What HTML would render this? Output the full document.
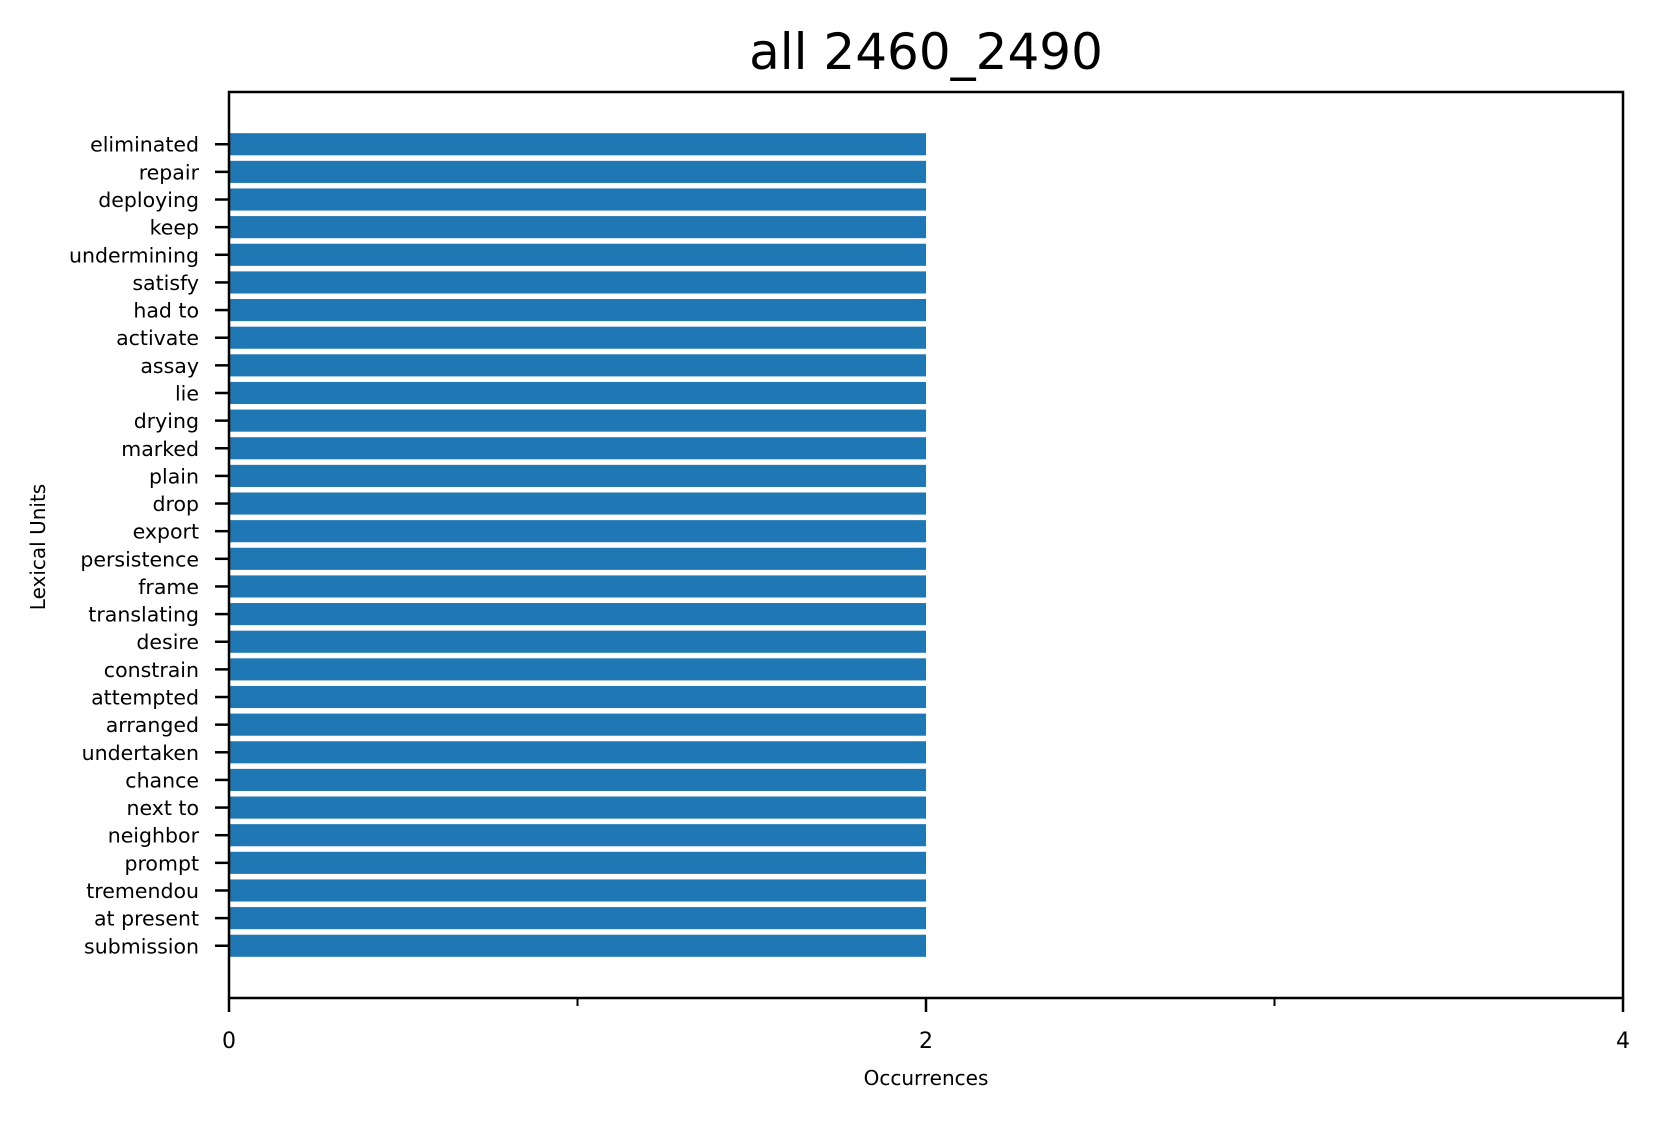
<!DOCTYPE html>
<html><head><meta charset="utf-8"><style>
body{margin:0;background:#fff;}
svg text{font-family:"DejaVu Sans","Liberation Sans",sans-serif;fill:#000;}
</style></head><body>
<svg id="chart" width="1660" height="1118" viewBox="0 0 1660 1118" xmlns="http://www.w3.org/2000/svg">
<rect width="1660" height="1118" fill="#fff"/>
<text x="926" y="69" font-size="50" text-anchor="middle">all 2460_2490</text>
<g id="bars"></g>
<g id="yticks"></g>
<g id="xticks"></g>
<rect x="229" y="92" width="1394" height="906" fill="none" stroke="#000" stroke-width="2.5"/>
<text x="926" y="1085" font-size="20" text-anchor="middle">Occurrences</text>
<text transform="translate(45,547) rotate(-90)" font-size="20" text-anchor="middle">Lexical Units</text>
</svg>
<script>
const categories = ["eliminated","repair","deploying","keep","undermining","satisfy","had to","activate","assay","lie","drying","marked","plain","drop","export","persistence","frame","translating","desire","constrain","attempted","arranged","undertaken","chance","next to","neighbor","prompt","tremendou","at present","submission"];
const values = [2,2,2,2,2,2,2,2,2,2,2,2,2,2,2,2,2,2,2,2,2,2,2,2,2,2,2,2,2,2];
const xMajorTicks = [0,2,4];
const xMinorTicks = [1,3];

const NS = "http://www.w3.org/2000/svg";
const L = 229, R = 1623, T = 92, B = 998;
const xMax = 4;
const n = categories.length;
const yMin = -0.4 - 0.05*(n - 0.2), yMax = (n - 1) + 0.4 + 0.05*(n - 0.2);
function xs(v){ return L + (v / xMax) * (R - L); }
function ys(i){ const d = (n - 1 - i); return B - (d - yMin) / (yMax - yMin) * (B - T); }
const unit = (B - T) / (yMax - yMin);
function mk(tag, attrs, parent){ const e = document.createElementNS(NS, tag); for (const k in attrs) e.setAttribute(k, attrs[k]); parent.appendChild(e); return e; }

const gb = document.getElementById('bars');
const gy = document.getElementById('yticks');
const gx = document.getElementById('xticks');
categories.forEach((c, i) => {
  const cy = ys(i), h = 0.8 * unit;
  const r = mk('rect', {x: xs(0), y: cy - h/2, width: xs(values[i]) - xs(0), height: h, fill: '#1f77b4'}, gb);
  
  
  const t = mk('line', {x1: L - 14, x2: L, y1: cy, y2: cy, stroke: '#000', 'stroke-width': 2.5}, gy);
  
  
  const tx = mk('text', {x: L - 30, y: cy + 7.5, 'font-size': 20.5, 'text-anchor': 'end'}, gy);
  tx.textContent = c;
  
  
});
xMajorTicks.forEach(v => {
  const t = mk('line', {x1: xs(v), x2: xs(v), y1: B, y2: B + 14, stroke: '#000', 'stroke-width': 2.5}, gx);
  
  
  const tx = mk('text', {x: xs(v), y: 1048, 'font-size': 22, 'text-anchor': 'middle'}, gx);
  tx.textContent = String(v);
  
  
});
xMinorTicks.forEach(v => {
  const t = mk('line', {x1: xs(v), x2: xs(v), y1: B, y2: B + 8, stroke: '#000', 'stroke-width': 2}, gx);
  
  
});
</script>
</body></html>
